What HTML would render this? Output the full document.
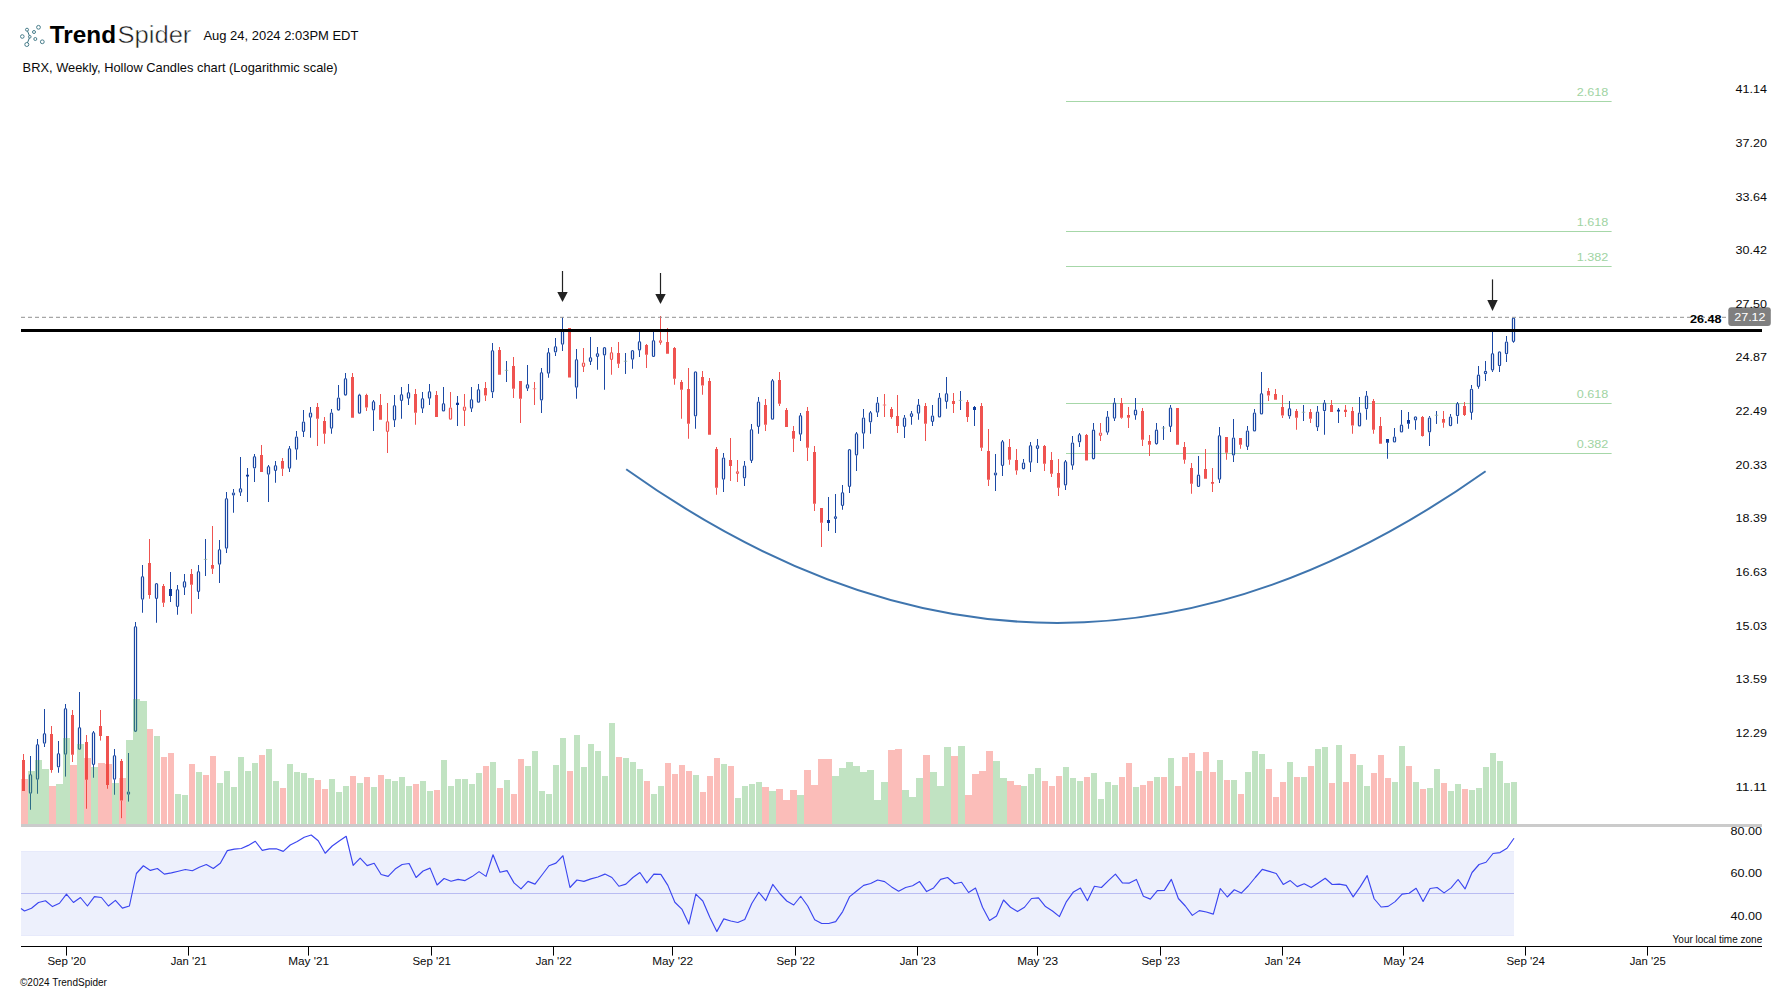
<!DOCTYPE html>
<html><head><meta charset="utf-8"><title>TrendSpider BRX Weekly</title>
<style>html,body{margin:0;padding:0;background:#fff}body{width:1792px;height:992px;position:relative;overflow:hidden;font-family:"Liberation Sans",sans-serif}</style>
</head><body>
<svg width="1792" height="992" viewBox="0 0 1792 992" style="position:absolute;left:0;top:0">
<rect x="1066" y="101" width="545.6" height="1" fill="#a6d7a8"/>
<rect x="1066" y="231" width="545.6" height="1" fill="#a6d7a8"/>
<rect x="1066" y="266" width="545.6" height="1" fill="#a6d7a8"/>
<rect x="1066" y="403" width="545.6" height="1" fill="#a6d7a8"/>
<rect x="1066" y="453" width="545.6" height="1" fill="#a6d7a8"/>
<path d="M30.5 756V774M30.5 793.75V809.75M37.5 739V744M37.5 779.75V793.75M44.5 709V733M44.5 743.75V747M58.5 741V753M58.5 767.5V772.75M65.5 704V708M65.5 754.75V776.6M79.5 692V727M93.5 731V732M93.5 765V777.75M114.5 749V755M114.5 779.75V794.75M128.5 753V791.25M128.5 794.75V801.6M135.5 622V626M142.5 565V576M142.5 599.75V612.75M156.5 599V622.75M170.5 572V589M170.5 596V602M177.5 585V589M177.5 607V614.75M184.5 574V581M184.5 587.75V595M198.5 565V571M198.5 592V599M205.5 539V559.4M205.5 559.4V576M205.5 539V576M219.5 540V549M219.5 564.75V583M226.5 492V498M226.5 548.75V553M233.5 489V492.25M233.5 495.6V512.75M240.5 457V488M240.5 492.75V496M247.5 468V475M247.5 476.5V502M247.5 468V502M254.5 454V456M254.5 468.5V482M268.5 465V466M268.5 474.75V502M275.5 461V465M275.5 471V482.75M289.5 446V448M289.5 468.75V472M296.5 431V436.25M296.5 449.75V459.75M303.5 410V421.25M303.5 432V437M310.5 407V412.25M310.5 417.75V437.75M331.5 409V412.25M331.5 428.75V433.75M338.5 385V397.25M345.5 373V378M359.5 393.75V394.4M373.5 400V401M373.5 410.6V431M394.5 395V405M394.5 420.6V427M401.5 387V394M401.5 401V418.75M408.5 384V392M408.5 398.75V405M422.5 392V398M422.5 408.75V413M429.5 384V391M429.5 398.75V405M443.5 387V403M457.5 396V403M457.5 405V426M457.5 396V426M471.5 387V399M471.5 408.75V412M478.5 384V389M492.5 343V350M492.5 392.5V398M506.5 361V370.4M506.5 370.4V382M506.5 361V382M527.5 365V384M527.5 388.75V391M541.5 368V372M541.5 400.6V413M548.5 348V352M548.5 373.75V377.75M555.5 338V346M555.5 352.5V356M562.5 317.25V330M562.5 344.75V351M576.5 349V359M576.5 387.75V398.75M590.5 337V357M590.5 362V365M597.5 347V353M597.5 357V369.75M604.5 355.6V389.75M625.5 353V361.25M625.5 361.25V373.75M625.5 353V373.75M632.5 359.75V368.75M639.5 330V341M639.5 350.6V357M653.5 330V340M695.5 416.5V428.75M723.5 453V457.25M723.5 479.75V492M744.5 461V465.25M744.5 478.5V486M751.5 424V429M751.5 461V463M758.5 397V401.25M758.5 427V433.75M772.5 379V380M800.5 413V415M800.5 434.75V441M828.5 497V520M828.5 523V531M835.5 494V516M835.5 519V533M842.5 485V492M842.5 506V509.75M849.5 487V493M856.5 432V433M856.5 455.6V471M863.5 409V417.25M863.5 433.75V448.75M870.5 411V412M870.5 422.5V433.75M877.5 397V402.25M877.5 412.75V417M904.5 415V417.25M904.5 427V438M911.5 411V413M911.5 417V424.75M918.5 399V404.4M918.5 413.75V419.75M932.5 405V415.25M932.5 422V426M939.5 393V397.25M946.5 377V393M946.5 402V408.75M960.5 391V400.4M960.5 400.4V410M960.5 391V410M974.5 406V407M974.5 410V426M995.5 454V472.25M995.5 475.6V491M1002.5 440V441M1002.5 466V476M1023.5 459V462.25M1030.5 442V445M1030.5 462.75V472M1037.5 439V445M1037.5 449V463M1065.5 460V461M1065.5 485.6V490M1072.5 436V442.25M1072.5 465.75V469.75M1079.5 433V434M1079.5 442.5V447M1093.5 423V429.4M1107.5 411V416.25M1107.5 432.75V434.75M1114.5 398V402.25M1114.5 418.75V421M1135.5 398V409.4M1135.5 415.6V419.75M1156.5 423V429.4M1156.5 444.4V444.75M1163.5 426V428M1163.5 428V439.75M1163.5 426V439.75M1170.5 405V407.25M1170.5 427V432M1198.5 456V474.4M1219.5 427V435M1219.5 479.75V483M1233.5 419V437.25M1233.5 455.6V462M1247.5 426V430.25M1247.5 447V450M1254.5 409V412.25M1261.5 372V393M1289.5 401V408M1289.5 416.5V418.75M1303.5 405V412.25M1303.5 412.25V421M1303.5 405V421M1317.5 406V411.25M1317.5 427.5V431M1324.5 400V402.25M1324.5 411.25V434.75M1338.5 408V410M1338.5 411.5V423M1338.5 408V423M1359.5 397V412.25M1366.5 391V395.25M1366.5 409.4V419.75M1387.5 442.75V458.75M1394.5 428V436.25M1401.5 410V424.4M1408.5 412V420M1408.5 423.75V428.75M1415.5 420.6V429.75M1429.5 416V417.25M1429.5 432.5V446M1436.5 411V415.25M1436.5 415.25V423.75M1436.5 411V423.75M1450.5 414V416.25M1457.5 402V403M1457.5 416.25V423.75M1471.5 385V388.5M1471.5 413V419.75M1478.5 366V374.4M1478.5 387V388.75M1485.5 361V370.6M1485.5 374.4V381M1492.5 329V353M1492.5 370.6V372M1499.5 366.25V372M1506.5 336V341.25M1506.5 354.4V362M1513.5 342V342.75" stroke="#1c49a4" stroke-width="1" fill="none"/>
<path d="M23.5 754V760M51.5 726V734M51.5 770V772.75M72.5 710V715M72.5 754.75V762M86.5 735V742M86.5 779.75V808.75M100.5 710V726M100.5 736V740.6M107.5 785V788.75M121.5 759V761M121.5 800.6V818.2M149.5 539V563M149.5 595V598.75M163.5 584V586M163.5 602.75V607M191.5 569V574M191.5 584.75V613.75M212.5 526V565M212.5 568.75V574M261.5 445V455M282.5 458V461M282.5 468.75V476M317.5 403V407M317.5 418.75V446M324.5 417V421M324.5 433.75V443.75M352.5 373V377M366.5 393.75V395M366.5 407.5V411M380.5 394V405M387.5 403V421M387.5 432V453M415.5 389V394M415.5 412.75V424.75M436.5 391V395M450.5 392V407.25M464.5 394V406.25M464.5 411V426M485.5 382V388M485.5 395.6V401M499.5 347V350M513.5 357V366M513.5 388.75V398M520.5 398.75V423M534.5 382V388.75M534.5 388.75V405M534.5 382V405M583.5 348V362.25M583.5 367V372M611.5 347V352M611.5 360V374.75M618.5 342V353M618.5 363.75V368M646.5 344V345M646.5 354.75V368M660.5 316V340M660.5 343V344.75M667.5 328V342M674.5 347V348M674.5 378.75V384.75M681.5 380V382M681.5 389.75V418.75M688.5 368V389M688.5 423.75V438.75M702.5 371V377M702.5 385.6V394.75M709.5 378V381M716.5 447V449M716.5 487.75V494.75M730.5 438V460M730.5 466V481M737.5 460V471M737.5 474V482M765.5 399V405M765.5 424.75V431M779.5 372V380M779.5 403.75V406M786.5 408V410M793.5 426V431M793.5 438.75V452M807.5 407V411M807.5 447.75V461M814.5 446V452M814.5 503.75V511M821.5 522.75V547M884.5 394V405M884.5 405V417M884.5 394V417M891.5 407V409M891.5 417V418.75M897.5 395V416M897.5 426V433M925.5 403V406M925.5 423.75V441M953.5 393V401M953.5 404V413M967.5 400V402M967.5 417V422M981.5 403V406M981.5 447.75V451M988.5 429V451M988.5 479.75V486M1009.5 439V447M1009.5 459.75V464.75M1016.5 449V460M1016.5 470.6V474.75M1044.5 445V446M1044.5 463.75V471M1051.5 452V460M1051.5 473.75V477M1058.5 459V473M1058.5 487.75V496M1086.5 434V435M1100.5 423V432.25M1100.5 436V441M1121.5 398V403M1121.5 417.75V418.75M1128.5 407V415M1128.5 417.75V428M1142.5 408V411M1142.5 439.75V446M1149.5 435V441M1149.5 444.75V456M1184.5 442V447M1184.5 459.75V463.75M1191.5 463V468M1191.5 483.75V493.75M1205.5 449V469M1212.5 468V482.25M1212.5 483.75V492M1212.5 468V492M1226.5 452.75V459.75M1240.5 444.75V448.75M1268.5 388V391M1268.5 395.6V401M1275.5 389V394M1282.5 395V407M1282.5 415.6V418M1296.5 409V411M1296.5 417.75V429.75M1310.5 409V412M1310.5 418.75V423M1331.5 400V405M1345.5 405V410M1345.5 412V417M1345.5 405V417M1352.5 407V411M1352.5 425.6V433.75M1373.5 399V401M1373.5 429.75V433.75M1380.5 417V426M1422.5 416V417M1422.5 436V436.6M1443.5 411V419M1443.5 422.75V427.75M1464.5 402V406M1464.5 415V416" stroke="#ef5350" stroke-width="1" fill="none"/>
<path d="M169 589h3V596h-3zM246 474.7h3V476.5h-3zM456 402.7h3V405h-3zM827 520h3V523h-3zM973 407h3V410h-3zM1337 409.7h3V411.5h-3zM1386 439h3V442.75h-3zM1407 420h3V423.75h-3z" fill="#0d3a9c"/>
<path d="M22 760h3V791h-3zM50 734h3V770h-3zM71 715h3V754.75h-3zM85 742h3V779.75h-3zM99 726h3V736h-3zM106 736h3V785h-3zM120 761h3V800.6h-3zM148 563h3V595h-3zM162 586h3V602.75h-3zM190 574h3V584.75h-3zM211 565h3V568.75h-3zM260 455h3V472h-3zM281 461h3V468.75h-3zM316 407h3V418.75h-3zM323 421h3V433.75h-3zM351 377h3V417.75h-3zM365 395h3V407.5h-3zM379 405h3V419.75h-3zM414 394h3V412.75h-3zM435 395h3V417h-3zM484 388h3V395.6h-3zM498 350h3V374.75h-3zM512 366h3V388.75h-3zM519 381h3V398.75h-3zM568 328h3V377.5h-3zM617 353h3V363.75h-3zM645 345h3V354.75h-3zM666 342h3V353.75h-3zM673 348h3V378.75h-3zM680 382h3V389.75h-3zM687 389h3V423.75h-3zM701 377h3V385.6h-3zM708 381h3V434.75h-3zM715 449h3V487.75h-3zM729 460h3V466h-3zM764 405h3V424.75h-3zM778 380h3V403.75h-3zM785 410h3V427h-3zM792 431h3V438.75h-3zM806 411h3V447.75h-3zM813 452h3V503.75h-3zM820 508h3V522.75h-3zM890 409h3V417h-3zM896 416h3V426h-3zM924 406h3V423.75h-3zM952 401h3V404h-3zM966 402h3V417h-3zM980 406h3V447.75h-3zM987 451h3V479.75h-3zM1008 447h3V459.75h-3zM1015 460h3V470.6h-3zM1043 446h3V463.75h-3zM1050 460h3V473.75h-3zM1057 473h3V487.75h-3zM1085 435h3V460.6h-3zM1120 403h3V417.75h-3zM1127 415h3V417.75h-3zM1141 411h3V439.75h-3zM1148 441h3V444.75h-3zM1176 408h3V444.75h-3zM1183 447h3V459.75h-3zM1190 468h3V483.75h-3zM1204 469h3V478.75h-3zM1211 481.95h3V483.75h-3zM1225 437h3V452.75h-3zM1239 438h3V444.75h-3zM1267 391h3V395.6h-3zM1274 394h3V399.75h-3zM1281 407h3V415.6h-3zM1295 411h3V417.75h-3zM1309 412h3V418.75h-3zM1330 405h3V412h-3zM1344 409.7h3V412h-3zM1351 411h3V425.6h-3zM1372 401h3V429.75h-3zM1379 426h3V443.75h-3zM1421 417h3V436h-3zM1442 419h3V422.75h-3zM1463 406h3V415h-3z" fill="#ef5350"/>
<g fill="none" stroke="#1c49a4" stroke-width="1.2">
<rect x="29.45" y="774.5" width="2.1" height="18.75" rx="1.05"/>
<rect x="36.45" y="744.5" width="2.1" height="34.75" rx="1.05"/>
<rect x="43.45" y="733.5" width="2.1" height="9.75" rx="1.05"/>
<rect x="57.45" y="753.5" width="2.1" height="13.5" rx="1.05"/>
<rect x="64.45" y="708.5" width="2.1" height="45.75" rx="1.05"/>
<rect x="78.45" y="727.5" width="2.1" height="21.75" rx="1.05"/>
<rect x="92.45" y="732.5" width="2.1" height="32" rx="1.05"/>
<rect x="113.45" y="755.5" width="2.1" height="23.75" rx="1.05"/>
<rect x="127.45" y="791.75" width="2.1" height="2.5" rx="1.05"/>
<rect x="134.45" y="626.5" width="2.1" height="104.9" rx="1.05"/>
<rect x="141.45" y="576.5" width="2.1" height="22.75" rx="1.05"/>
<rect x="155.45" y="583.5" width="2.1" height="15" rx="1.05"/>
<rect x="176.45" y="589.5" width="2.1" height="17" rx="1.05"/>
<rect x="183.45" y="581.5" width="2.1" height="5.75" rx="1.05"/>
<rect x="197.45" y="571.5" width="2.1" height="20" rx="1.05"/>
<rect x="218.45" y="549.5" width="2.1" height="14.75" rx="1.05"/>
<rect x="225.45" y="498.5" width="2.1" height="49.75" rx="1.05"/>
<rect x="232.45" y="492.75" width="2.1" height="2.35" rx="1.05"/>
<rect x="239.45" y="488.5" width="2.1" height="3.75" rx="1.05"/>
<rect x="253.45" y="456.5" width="2.1" height="11.5" rx="1.05"/>
<rect x="267.45" y="466.5" width="2.1" height="7.75" rx="1.05"/>
<rect x="274.45" y="465.5" width="2.1" height="5" rx="1.05"/>
<rect x="288.45" y="448.5" width="2.1" height="19.75" rx="1.05"/>
<rect x="295.45" y="436.75" width="2.1" height="12.5" rx="1.05"/>
<rect x="302.45" y="421.75" width="2.1" height="9.75" rx="1.05"/>
<rect x="309.45" y="412.75" width="2.1" height="4.5" rx="1.05"/>
<rect x="330.45" y="412.75" width="2.1" height="15.5" rx="1.05"/>
<rect x="337.45" y="397.75" width="2.1" height="12.35" rx="1.05"/>
<rect x="344.45" y="378.5" width="2.1" height="16.6" rx="1.05"/>
<rect x="358.45" y="394.9" width="2.1" height="18.35" rx="1.05"/>
<rect x="372.45" y="401.5" width="2.1" height="8.6" rx="1.05"/>
<rect x="393.45" y="405.5" width="2.1" height="14.6" rx="1.05"/>
<rect x="400.45" y="394.5" width="2.1" height="6" rx="1.05"/>
<rect x="407.45" y="392.5" width="2.1" height="5.75" rx="1.05"/>
<rect x="421.45" y="398.5" width="2.1" height="9.75" rx="1.05"/>
<rect x="428.45" y="391.5" width="2.1" height="6.75" rx="1.05"/>
<rect x="442.45" y="403.5" width="2.1" height="7.5" rx="1.05"/>
<rect x="470.45" y="399.5" width="2.1" height="8.75" rx="1.05"/>
<rect x="477.45" y="389.5" width="2.1" height="12.75" rx="1.05"/>
<rect x="491.45" y="350.5" width="2.1" height="41.5" rx="1.05"/>
<rect x="526.45" y="384.5" width="2.1" height="3.75" rx="1.05"/>
<rect x="540.45" y="372.5" width="2.1" height="27.6" rx="1.05"/>
<rect x="547.45" y="352.5" width="2.1" height="20.75" rx="1.05"/>
<rect x="554.45" y="346.5" width="2.1" height="5.5" rx="1.05"/>
<rect x="561.45" y="330.5" width="2.1" height="13.75" rx="1.05"/>
<rect x="575.45" y="359.5" width="2.1" height="27.75" rx="1.05"/>
<rect x="589.45" y="357.5" width="2.1" height="4" rx="1.05"/>
<rect x="596.45" y="353.5" width="2.1" height="3" rx="1.05"/>
<rect x="603.45" y="347.5" width="2.1" height="7.6" rx="1.05"/>
<rect x="631.45" y="350.5" width="2.1" height="8.75" rx="1.05"/>
<rect x="638.45" y="341.5" width="2.1" height="8.6" rx="1.05"/>
<rect x="652.45" y="340.5" width="2.1" height="16" rx="1.05"/>
<rect x="694.45" y="371.75" width="2.1" height="44.25" rx="1.05"/>
<rect x="722.45" y="457.75" width="2.1" height="21.5" rx="1.05"/>
<rect x="743.45" y="465.75" width="2.1" height="12.25" rx="1.05"/>
<rect x="750.45" y="429.5" width="2.1" height="31" rx="1.05"/>
<rect x="757.45" y="401.75" width="2.1" height="24.75" rx="1.05"/>
<rect x="771.45" y="380.5" width="2.1" height="38.75" rx="1.05"/>
<rect x="799.45" y="415.5" width="2.1" height="18.75" rx="1.05"/>
<rect x="834.45" y="516.5" width="2.1" height="2" rx="1.05"/>
<rect x="841.45" y="492.5" width="2.1" height="13" rx="1.05"/>
<rect x="848.45" y="449.5" width="2.1" height="37" rx="1.05"/>
<rect x="855.45" y="433.5" width="2.1" height="21.6" rx="1.05"/>
<rect x="862.45" y="417.75" width="2.1" height="15.5" rx="1.05"/>
<rect x="869.45" y="412.5" width="2.1" height="9.5" rx="1.05"/>
<rect x="876.45" y="402.75" width="2.1" height="9.5" rx="1.05"/>
<rect x="903.45" y="417.75" width="2.1" height="8.75" rx="1.05"/>
<rect x="910.45" y="413.5" width="2.1" height="3" rx="1.05"/>
<rect x="917.45" y="404.9" width="2.1" height="8.35" rx="1.05"/>
<rect x="931.45" y="415.75" width="2.1" height="5.75" rx="1.05"/>
<rect x="938.45" y="397.75" width="2.1" height="19.25" rx="1.05"/>
<rect x="945.45" y="393.5" width="2.1" height="8" rx="1.05"/>
<rect x="994.45" y="472.75" width="2.1" height="2.35" rx="1.05"/>
<rect x="1001.45" y="441.5" width="2.1" height="24" rx="1.05"/>
<rect x="1022.45" y="462.75" width="2.1" height="6.15" rx="1.05"/>
<rect x="1029.45" y="445.5" width="2.1" height="16.75" rx="1.05"/>
<rect x="1036.45" y="445.5" width="2.1" height="3" rx="1.05"/>
<rect x="1064.45" y="461.5" width="2.1" height="23.6" rx="1.05"/>
<rect x="1071.45" y="442.75" width="2.1" height="22.5" rx="1.05"/>
<rect x="1078.45" y="434.5" width="2.1" height="7.5" rx="1.05"/>
<rect x="1092.45" y="429.9" width="2.1" height="29" rx="1.05"/>
<rect x="1106.45" y="416.75" width="2.1" height="15.5" rx="1.05"/>
<rect x="1113.45" y="402.75" width="2.1" height="15.5" rx="1.05"/>
<rect x="1134.45" y="409.9" width="2.1" height="5.2" rx="1.05"/>
<rect x="1155.45" y="429.9" width="2.1" height="14" rx="1.05"/>
<rect x="1169.45" y="407.75" width="2.1" height="18.75" rx="1.05"/>
<rect x="1197.45" y="474.9" width="2.1" height="11.6" rx="1.05"/>
<rect x="1218.45" y="435.5" width="2.1" height="43.75" rx="1.05"/>
<rect x="1232.45" y="437.75" width="2.1" height="17.35" rx="1.05"/>
<rect x="1246.45" y="430.75" width="2.1" height="15.75" rx="1.05"/>
<rect x="1253.45" y="412.75" width="2.1" height="18.25" rx="1.05"/>
<rect x="1260.45" y="393.5" width="2.1" height="20.5" rx="1.05"/>
<rect x="1288.45" y="408.5" width="2.1" height="7.5" rx="1.05"/>
<rect x="1316.45" y="411.75" width="2.1" height="15.25" rx="1.05"/>
<rect x="1323.45" y="402.75" width="2.1" height="8" rx="1.05"/>
<rect x="1358.45" y="412.75" width="2.1" height="13.25" rx="1.05"/>
<rect x="1365.45" y="395.75" width="2.1" height="13.15" rx="1.05"/>
<rect x="1393.45" y="436.75" width="2.1" height="5.25" rx="1.05"/>
<rect x="1400.45" y="424.9" width="2.1" height="7.1" rx="1.05"/>
<rect x="1414.45" y="416.75" width="2.1" height="3.35" rx="1.05"/>
<rect x="1428.45" y="417.75" width="2.1" height="14.25" rx="1.05"/>
<rect x="1449.45" y="416.75" width="2.1" height="9" rx="1.05"/>
<rect x="1456.45" y="403.5" width="2.1" height="12.25" rx="1.05"/>
<rect x="1470.45" y="389" width="2.1" height="23.5" rx="1.05"/>
<rect x="1477.45" y="374.9" width="2.1" height="11.6" rx="1.05"/>
<rect x="1484.45" y="371.1" width="2.1" height="2.8" rx="1.05"/>
<rect x="1491.45" y="353.5" width="2.1" height="16.6" rx="1.05"/>
<rect x="1498.45" y="351.75" width="2.1" height="14" rx="1.05"/>
<rect x="1505.45" y="341.75" width="2.1" height="12.15" rx="1.05"/>
<rect x="1512.45" y="318" width="2.1" height="23.5" rx="1.05"/>
</g>
<g fill="none" stroke="#ef5350" stroke-width="1.2">
<rect x="386.45" y="421.5" width="2.1" height="10" rx="1.05"/>
<rect x="449.45" y="407.75" width="2.1" height="11.5" rx="1.05"/>
<rect x="463.45" y="406.75" width="2.1" height="3.75" rx="1.05"/>
<rect x="582.45" y="362.75" width="2.1" height="3.75" rx="1.05"/>
<rect x="610.45" y="352.5" width="2.1" height="7" rx="1.05"/>
<rect x="659.45" y="340.5" width="2.1" height="2" rx="1.05"/>
<rect x="736.45" y="471.5" width="2.1" height="2" rx="1.05"/>
<rect x="1099.45" y="432.75" width="2.1" height="2.75" rx="1.05"/>
</g>
<path d="M203.8 559.4h3.4M504.8 370.4h3.4M623.8 361.25h3.4M958.8 400.4h3.4M1161.8 428h3.4M1301.8 412.25h3.4M1434.8 415.25h3.4" stroke="#8fb09a" stroke-width="0.8" fill="none"/>
<path d="M532.8 388.75h3.4M882.8 405h3.4" stroke="#f08a86" stroke-width="1" fill="none"/>
<path d="M28 771h7V825h-7zM35 760h7V825h-7zM42 769h7V825h-7zM56 784h7V825h-7zM63 738h7V825h-7zM77 744h7V825h-7zM91 767h7V825h-7zM112 783h7V825h-7zM126 740h7V825h-7zM133 699h7V825h-7zM140 701h7V825h-7zM154 736h6V825h-6zM175 794h6V825h-6zM182 795h6V825h-6zM196 772h6V825h-6zM217 783h6V825h-6zM224 771h6V825h-6zM231 787h6V825h-6zM238 757h6V825h-6zM245 771h6V825h-6zM252 763h6V825h-6zM266 749h6V825h-6zM273 781h6V825h-6zM287 764h6V825h-6zM294 772h6V825h-6zM301 773h6V825h-6zM308 778h6V825h-6zM329 779h6V825h-6zM336 792h6V825h-6zM343 786h6V825h-6zM357 783h6V825h-6zM371 787h6V825h-6zM385 779h6V825h-6zM392 781h6V825h-6zM399 777h6V825h-6zM406 786h6V825h-6zM420 781h6V825h-6zM427 791h6V825h-6zM441 760h6V825h-6zM448 786h6V825h-6zM455 779h6V825h-6zM462 779h6V825h-6zM469 784h6V825h-6zM476 773h6V825h-6zM490 762h6V825h-6zM504 780h6V825h-6zM525 766h6V825h-6zM532 751h6V825h-6zM539 791h6V825h-6zM546 794h6V825h-6zM553 765h6V825h-6zM560 738h6V825h-6zM574 735h6V825h-6zM581 767h6V825h-6zM588 744h6V825h-6zM595 751h6V825h-6zM602 776h6V825h-6zM609 723h6V825h-6zM623 758h6V825h-6zM630 762h6V825h-6zM637 769h6V825h-6zM651 794h6V825h-6zM658 786h6V825h-6zM693 775h6V825h-6zM721 764h6V825h-6zM735 798h6V825h-6zM742 786h6V825h-6zM749 784h6V825h-6zM756 782h6V825h-6zM769 791h7V825h-7zM797 795h7V825h-7zM832 776h7V825h-7zM839 768h7V825h-7zM846 762h7V825h-7zM853 766h7V825h-7zM860 772h7V825h-7zM867 770h7V825h-7zM874 800h7V825h-7zM881 782h7V825h-7zM902 790h7V825h-7zM909 797h7V825h-7zM916 778h7V825h-7zM930 772h7V825h-7zM937 786h7V825h-7zM944 747h7V825h-7zM958 746h7V825h-7zM993 761h7V825h-7zM1000 778h7V825h-7zM1021 786h6V825h-6zM1028 774h6V825h-6zM1035 768h6V825h-6zM1063 767h6V825h-6zM1070 778h6V825h-6zM1077 781h6V825h-6zM1091 773h6V825h-6zM1098 799h6V825h-6zM1105 782h6V825h-6zM1112 785h6V825h-6zM1133 787h6V825h-6zM1154 777h6V825h-6zM1168 758h6V825h-6zM1196 771h6V825h-6zM1217 760h6V825h-6zM1231 780h6V825h-6zM1245 772h6V825h-6zM1252 751h6V825h-6zM1259 754h6V825h-6zM1287 762h6V825h-6zM1301 777h6V825h-6zM1315 749h6V825h-6zM1322 747h6V825h-6zM1336 745h6V825h-6zM1357 765h6V825h-6zM1364 786h6V825h-6zM1392 782h6V825h-6zM1399 746h6V825h-6zM1413 782h6V825h-6zM1427 788h6V825h-6zM1434 769h6V825h-6zM1448 791h6V825h-6zM1455 784h6V825h-6zM1469 790h6V825h-6zM1476 788h6V825h-6zM1483 767h6V825h-6zM1490 753h6V825h-6zM1497 761h6V825h-6zM1504 783h6V825h-6zM1511 782h6V825h-6z" fill="#4caf50" fill-opacity="0.35"/>
<path d="M21 779h7V825h-7zM49 786h7V825h-7zM70 765h7V825h-7zM84 758h7V825h-7zM98 763h7V825h-7zM105 764h7V825h-7zM119 778h7V825h-7zM147 729h6V825h-6zM161 757h6V825h-6zM168 753h6V825h-6zM189 764h6V825h-6zM203 775h6V825h-6zM210 756h6V825h-6zM259 755h6V825h-6zM280 788h6V825h-6zM315 780h6V825h-6zM322 789h6V825h-6zM350 776h6V825h-6zM364 777h6V825h-6zM378 775h6V825h-6zM413 784h6V825h-6zM434 790h6V825h-6zM483 766h6V825h-6zM497 788h6V825h-6zM511 794h6V825h-6zM518 759h6V825h-6zM567 771h6V825h-6zM616 757h6V825h-6zM644 781h6V825h-6zM665 763h6V825h-6zM672 774h6V825h-6zM679 765h6V825h-6zM686 771h6V825h-6zM700 792h6V825h-6zM707 776h6V825h-6zM714 758h6V825h-6zM728 766h6V825h-6zM762 787h7V825h-7zM776 789h7V825h-7zM783 800h7V825h-7zM790 790h7V825h-7zM804 770h7V825h-7zM811 785h7V825h-7zM818 759h7V825h-7zM825 759h7V825h-7zM888 750h7V825h-7zM895 749h7V825h-7zM923 755h7V825h-7zM951 756h7V825h-7zM965 795h7V825h-7zM972 774h7V825h-7zM979 771h7V825h-7zM986 751h7V825h-7zM1007 781h7V825h-7zM1014 785h7V825h-7zM1042 781h6V825h-6zM1049 786h6V825h-6zM1056 776h6V825h-6zM1084 777h6V825h-6zM1119 777h6V825h-6zM1126 763h6V825h-6zM1140 785h6V825h-6zM1147 781h6V825h-6zM1161 777h6V825h-6zM1175 786h6V825h-6zM1182 757h6V825h-6zM1189 753h6V825h-6zM1203 752h6V825h-6zM1210 772h6V825h-6zM1224 780h6V825h-6zM1238 794h6V825h-6zM1266 769h6V825h-6zM1273 797h6V825h-6zM1280 782h6V825h-6zM1294 777h6V825h-6zM1308 766h6V825h-6zM1329 783h6V825h-6zM1343 782h6V825h-6zM1350 754h6V825h-6zM1371 773h6V825h-6zM1378 755h6V825h-6zM1385 778h6V825h-6zM1406 766h6V825h-6zM1420 789h6V825h-6zM1441 783h6V825h-6zM1462 789h6V825h-6z" fill="#f44336" fill-opacity="0.35"/>
<path d="M626.2 469.2Q1055.8 775.6 1485.6 471.2" fill="none" stroke="#3f75ae" stroke-width="2" stroke-linecap="butt"/>
<path d="M21 317.3H1727" stroke="#909090" stroke-width="1" stroke-dasharray="4 3" fill="none"/>
<rect x="21" y="329" width="1741" height="3" fill="#000"/>
<path d="M562.5 271V293" stroke="#222" stroke-width="1.2"/>
<path d="M557.3 292h10.4l-5.2 10z" fill="#222"/>
<path d="M660.5 273V295" stroke="#222" stroke-width="1.2"/>
<path d="M655.3 294h10.4l-5.2 10z" fill="#222"/>
<path d="M1492.5 279.4V301" stroke="#222" stroke-width="1.2"/>
<path d="M1487.3 300h10.4l-5.2 11z" fill="#222"/>
<rect x="21" y="824" width="1741" height="3" fill="#cbcbcb"/>
<rect x="21" y="851" width="1493" height="85" fill="#edf0fc"/>
<rect x="21" y="851" width="1493" height="1" fill="#e7eafb"/>
<rect x="21" y="935" width="1493" height="1" fill="#e7eafb"/>
<rect x="21" y="893" width="1493" height="1" fill="#b9bcf2"/>
<path d="M21 908.5L24.5 911L31.49 908.25L38.49 902.5L45.48 900.75L52.47 906.6L59.47 903.25L66.46 894.1L73.45 902.5L80.44 897.5L87.44 906L94.43 896.6L101.42 897.5L108.42 906L115.41 900.4L122.4 908.1L129.4 906L136.39 873.5L143.38 865.75L150.37 870.4L157.37 868.5L164.36 874.1L171.35 872.9L178.35 871.25L185.34 869.5L192.33 870.75L199.33 867.25L206.32 864.5L213.31 868.5L220.3 863.25L227.3 850.6L234.29 849.1L241.28 848.5L248.28 845.4L255.27 841.25L262.26 850.4L269.25 848.9L276.25 848.75L283.24 851.4L290.23 845L297.23 841.6L304.22 837.25L311.21 835L318.21 840.75L325.2 853.25L332.19 846L339.19 841L346.18 836.25L353.17 865.4L360.16 858.1L367.16 865.6L374.15 863.25L381.14 874.5L388.14 876.4L395.13 869.1L402.12 864.5L409.12 863.5L416.11 877.5L423.1 871L430.09 868.1L437.09 885L444.08 878.5L451.07 881.25L458.07 879.4L465.06 880.6L472.05 876.6L479.05 871.6L486.04 876.4L493.03 854.75L500.02 872.25L507.02 870.6L514.01 882.9L521 888.9L528 881.4L534.99 884.1L541.98 875L548.98 865.75L555.97 863.1L562.96 855.75L569.95 887.5L576.95 880L583.94 881.4L590.93 878.9L597.93 877L604.92 874.1L611.91 877.5L618.9 886.25L625.9 884.1L632.89 877.5L639.88 872.5L646.88 882.9L653.87 874.1L660.86 874.4L667.86 885.4L674.85 902.25L681.84 909.1L688.84 924.1L695.83 894.1L702.82 901L709.81 917.25L716.81 931.6L723.8 918.9L730.79 921L737.79 922.5L744.78 919.5L751.77 903.5L758.76 892.25L765.76 900.6L772.75 884.4L779.74 893.5L786.74 901L793.73 905L800.72 896.25L807.72 906L814.71 919.75L821.7 923.5L828.7 923.5L835.69 921.6L842.68 911.6L849.67 896.6L856.67 891L863.66 885.4L870.65 883.5L877.65 880L884.64 881.6L891.63 886.9L898.62 891.25L905.62 887.5L912.61 885.75L919.6 881.6L926.6 891.6L933.59 887.9L940.58 879.4L947.58 877.5L954.57 883.75L961.56 882.25L968.56 892.5L975.55 888.1L982.54 907.25L989.53 920.4L996.53 916L1003.52 900L1010.51 907.25L1017.51 911.6L1024.5 907.25L1031.49 898.5L1038.49 897.9L1045.48 906.6L1052.47 911L1059.46 916.6L1066.46 901.6L1073.45 891.9L1080.44 888.1L1087.44 900.75L1094.43 886.25L1101.42 887.5L1108.41 880.6L1115.41 874.1L1122.4 882.9L1129.39 883.1L1136.39 879.4L1143.38 896.25L1150.37 899.1L1157.37 890.6L1164.36 890.4L1171.35 879.4L1178.35 898.5L1185.34 906L1192.33 915.4L1199.32 910.6L1206.32 912L1213.31 914.1L1220.3 888.5L1227.3 897L1234.29 889.75L1241.28 893.1L1248.28 886L1255.27 877.5L1262.26 869.4L1269.25 871.4L1276.25 873.5L1283.24 884.4L1290.23 880.6L1297.23 886.6L1304.22 883.75L1311.21 887.6L1318.21 882.9L1325.2 878.25L1332.19 884.5L1339.18 884.1L1346.18 885.4L1353.17 896.9L1360.16 886.9L1367.16 875.6L1374.15 898.75L1381.14 907L1388.13 906.4L1395.13 901.6L1402.12 894.1L1409.11 893.25L1416.11 888.25L1423.1 901.4L1430.09 888.5L1437.09 887.5L1444.08 892.9L1451.07 887.9L1458.07 879.5L1465.06 888.9L1472.05 872.5L1479.04 864.5L1486.04 862.25L1493.03 853.5L1500.02 852.6L1507.02 848.25L1514.01 838.25" fill="none" stroke="#3b46f0" stroke-width="1.15" stroke-linejoin="round"/>
<rect x="21" y="946" width="1741" height="1" fill="#000"/>
<rect x="66" y="946" width="1" height="9.6" fill="#000"/>
<rect x="188" y="946" width="1" height="9.6" fill="#000"/>
<rect x="308" y="946" width="1" height="9.6" fill="#000"/>
<rect x="431" y="946" width="1" height="9.6" fill="#000"/>
<rect x="553" y="946" width="1" height="9.6" fill="#000"/>
<rect x="672" y="946" width="1" height="9.6" fill="#000"/>
<rect x="795" y="946" width="1" height="9.6" fill="#000"/>
<rect x="917" y="946" width="1" height="9.6" fill="#000"/>
<rect x="1037" y="946" width="1" height="9.6" fill="#000"/>
<rect x="1160" y="946" width="1" height="9.6" fill="#000"/>
<rect x="1282" y="946" width="1" height="9.6" fill="#000"/>
<rect x="1403" y="946" width="1" height="9.6" fill="#000"/>
<rect x="1525" y="946" width="1" height="9.6" fill="#000"/>
<rect x="1647" y="946" width="1" height="9.6" fill="#000"/>
<rect x="1728.3" y="307.3" width="42.5" height="18.6" rx="3" fill="#7f7f7f"/>
<g font-family="Liberation Sans, sans-serif" fill="#0a0a0a">
<text x="47.4" y="965" font-size="11.4" textLength="38.6" lengthAdjust="spacingAndGlyphs">Sep &#39;20</text>
<text x="170.7" y="965" font-size="11.4" textLength="36" lengthAdjust="spacingAndGlyphs">Jan &#39;21</text>
<text x="288.2" y="965" font-size="11.4" textLength="41" lengthAdjust="spacingAndGlyphs">May &#39;21</text>
<text x="412.4" y="965" font-size="11.4" textLength="38.6" lengthAdjust="spacingAndGlyphs">Sep &#39;21</text>
<text x="535.7" y="965" font-size="11.4" textLength="36" lengthAdjust="spacingAndGlyphs">Jan &#39;22</text>
<text x="652.2" y="965" font-size="11.4" textLength="41" lengthAdjust="spacingAndGlyphs">May &#39;22</text>
<text x="776.4" y="965" font-size="11.4" textLength="38.6" lengthAdjust="spacingAndGlyphs">Sep &#39;22</text>
<text x="899.7" y="965" font-size="11.4" textLength="36" lengthAdjust="spacingAndGlyphs">Jan &#39;23</text>
<text x="1017.2" y="965" font-size="11.4" textLength="41" lengthAdjust="spacingAndGlyphs">May &#39;23</text>
<text x="1141.4" y="965" font-size="11.4" textLength="38.6" lengthAdjust="spacingAndGlyphs">Sep &#39;23</text>
<text x="1264.7" y="965" font-size="11.4" textLength="36" lengthAdjust="spacingAndGlyphs">Jan &#39;24</text>
<text x="1383.2" y="965" font-size="11.4" textLength="41" lengthAdjust="spacingAndGlyphs">May &#39;24</text>
<text x="1506.4" y="965" font-size="11.4" textLength="38.6" lengthAdjust="spacingAndGlyphs">Sep &#39;24</text>
<text x="1629.7" y="965" font-size="11.4" textLength="36" lengthAdjust="spacingAndGlyphs">Jan &#39;25</text>
<text x="1735.6" y="93.1" font-size="11.3" textLength="31.4" lengthAdjust="spacingAndGlyphs">41.14</text>
<text x="1735.6" y="146.9" font-size="11.3" textLength="31.4" lengthAdjust="spacingAndGlyphs">37.20</text>
<text x="1735.6" y="200.5" font-size="11.3" textLength="31.4" lengthAdjust="spacingAndGlyphs">33.64</text>
<text x="1735.6" y="254.1" font-size="11.3" textLength="31.4" lengthAdjust="spacingAndGlyphs">30.42</text>
<text x="1735.6" y="308" font-size="11.3" textLength="31.4" lengthAdjust="spacingAndGlyphs">27.50</text>
<text x="1735.6" y="361.1" font-size="11.3" textLength="31.4" lengthAdjust="spacingAndGlyphs">24.87</text>
<text x="1735.6" y="415.1" font-size="11.3" textLength="31.4" lengthAdjust="spacingAndGlyphs">22.49</text>
<text x="1735.6" y="468.6" font-size="11.3" textLength="31.4" lengthAdjust="spacingAndGlyphs">20.33</text>
<text x="1735.6" y="522.1" font-size="11.3" textLength="31.4" lengthAdjust="spacingAndGlyphs">18.39</text>
<text x="1735.6" y="576.1" font-size="11.3" textLength="31.4" lengthAdjust="spacingAndGlyphs">16.63</text>
<text x="1735.6" y="630.1" font-size="11.3" textLength="31.4" lengthAdjust="spacingAndGlyphs">15.03</text>
<text x="1735.6" y="683.1" font-size="11.3" textLength="31.4" lengthAdjust="spacingAndGlyphs">13.59</text>
<text x="1735.6" y="737.1" font-size="11.3" textLength="31.4" lengthAdjust="spacingAndGlyphs">12.29</text>
<text x="1735.6" y="791.1" font-size="11.3" textLength="31.4" lengthAdjust="spacingAndGlyphs">11.11</text>
<text x="1730.4" y="835" font-size="11.3" textLength="31.6" lengthAdjust="spacingAndGlyphs">80.00</text>
<text x="1730.4" y="877.1" font-size="11.3" textLength="31.6" lengthAdjust="spacingAndGlyphs">60.00</text>
<text x="1730.4" y="920.1" font-size="11.3" textLength="31.6" lengthAdjust="spacingAndGlyphs">40.00</text>
<text x="1689.9" y="323" font-size="11.4" textLength="31.6" lengthAdjust="spacingAndGlyphs" fill="#000" font-weight="bold">26.48</text>
<text x="1734.2" y="320.6" font-size="11.3" textLength="31.4" lengthAdjust="spacingAndGlyphs" fill="#fff">27.12</text>
<text x="1576.8" y="96" font-size="11.3" textLength="31.6" lengthAdjust="spacingAndGlyphs" fill="#9fd4a3">2.618</text>
<text x="1576.8" y="226" font-size="11.3" textLength="31.6" lengthAdjust="spacingAndGlyphs" fill="#9fd4a3">1.618</text>
<text x="1576.8" y="261" font-size="11.3" textLength="31.6" lengthAdjust="spacingAndGlyphs" fill="#9fd4a3">1.382</text>
<text x="1576.8" y="398" font-size="11.3" textLength="31.6" lengthAdjust="spacingAndGlyphs" fill="#9fd4a3">0.618</text>
<text x="1576.8" y="448" font-size="11.3" textLength="31.6" lengthAdjust="spacingAndGlyphs" fill="#9fd4a3">0.382</text>
<text x="1672.6" y="943" font-size="10" textLength="89.6" lengthAdjust="spacingAndGlyphs">Your local time zone</text>
<text x="20" y="986" font-size="10">©2024 TrendSpider</text>
<text x="22.6" y="72.4" font-size="12.2" textLength="315" lengthAdjust="spacingAndGlyphs">BRX, Weekly, Hollow Candles chart (Logarithmic scale)</text>
<text x="203.4" y="40.4" font-size="13" textLength="155" lengthAdjust="spacingAndGlyphs">Aug 24, 2024 2:03PM EDT</text>
<text x="49.8" y="43.1" font-size="23.1" textLength="66.2" lengthAdjust="spacingAndGlyphs" fill="#000" font-weight="bold">Trend</text>
<text x="117.4" y="43.1" font-size="23.3" textLength="74" lengthAdjust="spacingAndGlyphs" fill="#1a1a1a" stroke="#fff" stroke-width="0.45">Spider</text>
</g>
<g fill="#fff" stroke="#37707f" stroke-width="0.9">
<path d="M27 29.8L29.8 36.8L26.8 44.5" fill="none" stroke="#37707f" stroke-width="1"/>
<circle cx="38.5" cy="27.3" r="1.9"/>
<circle cx="27" cy="29.7" r="1.5"/>
<circle cx="34" cy="32" r="1.5"/>
<circle cx="22.3" cy="36.5" r="1.8"/>
<circle cx="29.8" cy="36.8" r="1.3"/>
<circle cx="35.3" cy="39" r="1.5"/>
<circle cx="42.3" cy="41.8" r="1.9"/>
<circle cx="26.8" cy="44.5" r="2.0"/>
</g>
</svg>
</body></html>
